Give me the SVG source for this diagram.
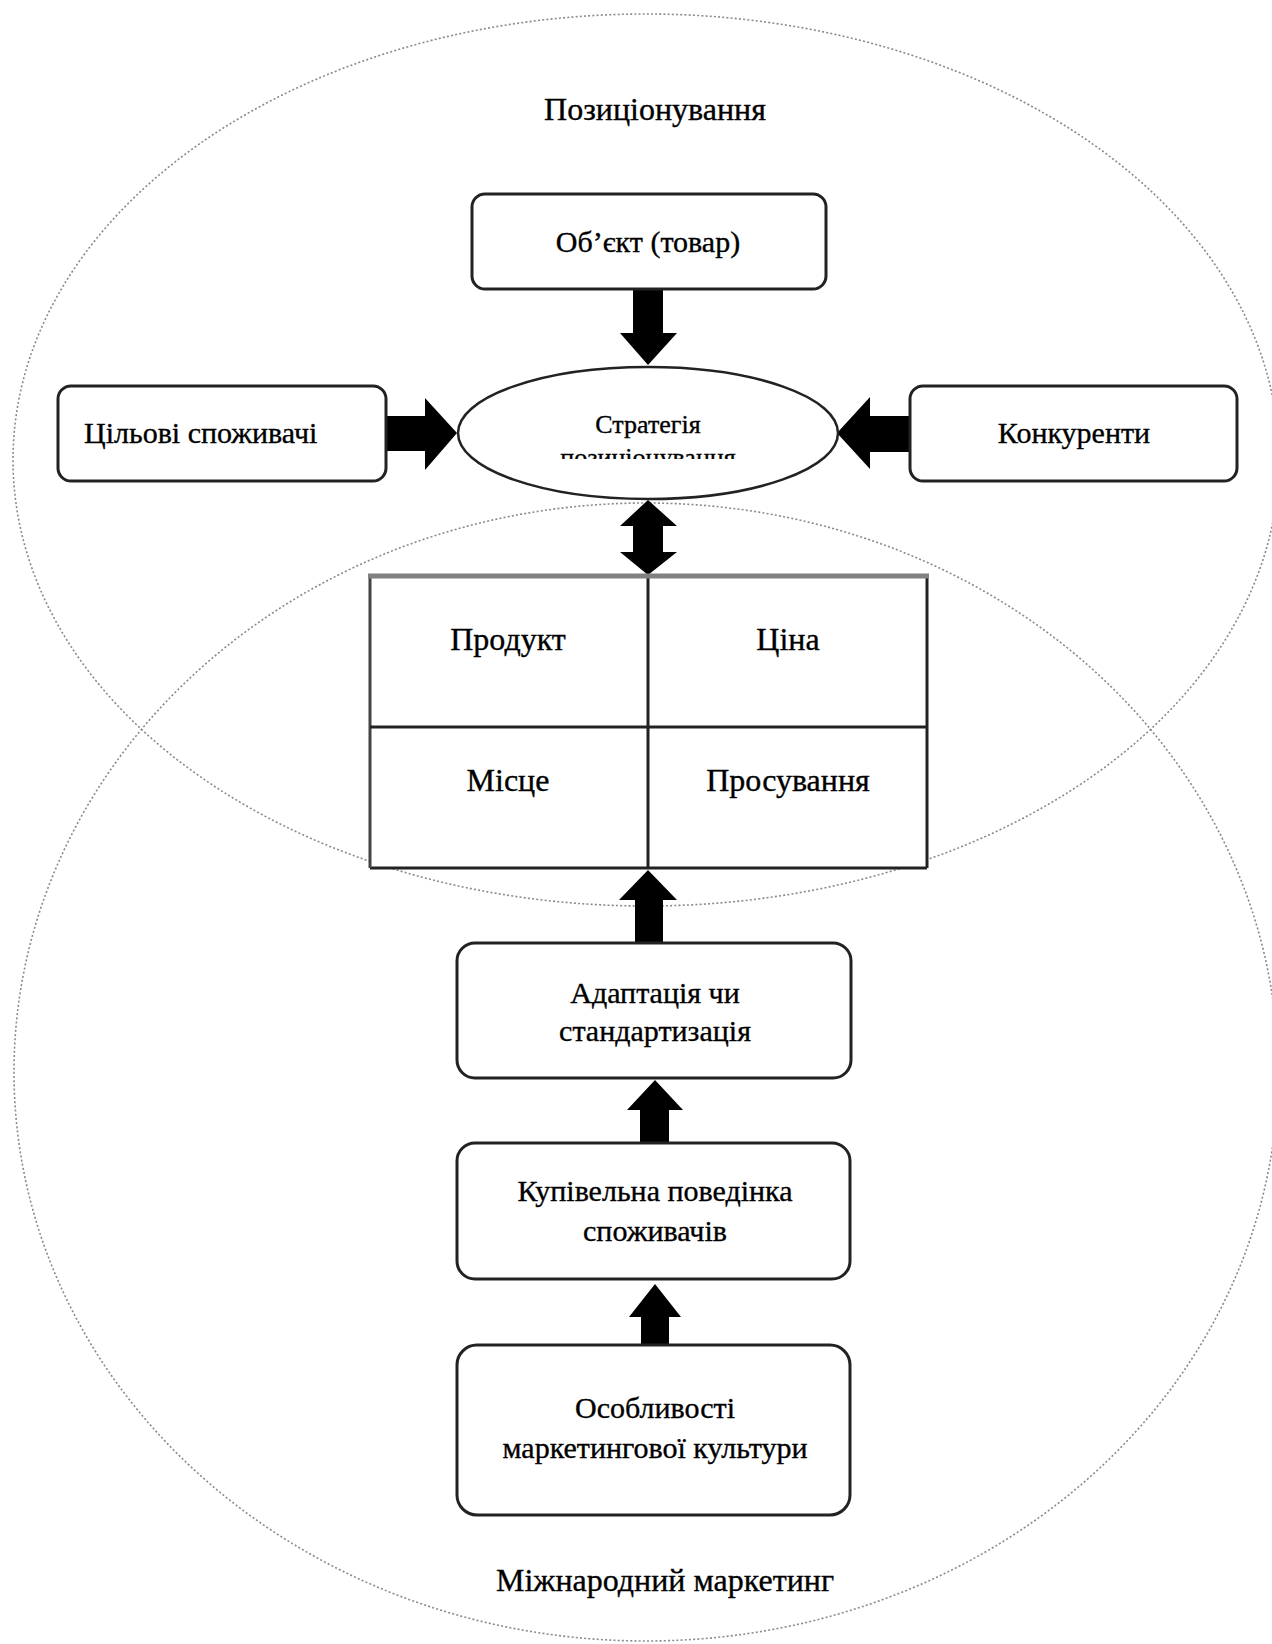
<svg xmlns="http://www.w3.org/2000/svg" width="1272" height="1644" viewBox="0 0 1272 1644">
<style>
  .bg { fill: #ffffff; }
  .zone { fill: none; stroke: #8a8a8a; stroke-width: 1.6; stroke-dasharray: 2 2.2; }
  .box { fill: #ffffff; stroke: #222222; stroke-width: 3; }
  .oval { fill: #ffffff; stroke: #222222; stroke-width: 2.5; }
  .grid { fill: none; stroke: #222222; stroke-width: 3; }
  .arrow { fill: #000000; stroke: none; }
  text { font-family: "Liberation Serif", "Times New Roman", serif; fill: #000000; text-anchor: middle; stroke: #000000; stroke-width: 0.35; }
  .t { font-size: 30px; }
  .tm { font-size: 32px; }
  .ts { font-size: 26px; }
  .tl { font-size: 32px; }
</style>
<defs>
  <clipPath id="ovalclip"><rect x="440" y="360" width="420" height="99"/></clipPath>
</defs>
<rect class="bg" x="0" y="0" width="1272" height="1644"/>

<g id="zones">
  <ellipse id="zone-positioning" class="zone" cx="646" cy="460" rx="633" ry="446"/>
  <ellipse id="zone-international" class="zone" cx="646" cy="1072" rx="632" ry="569"/>
  <text class="tl" x="655" y="120">Позиціонування</text>
  <text class="tl" x="665" y="1591">Міжнародний маркетинг</text>
</g>

<g id="connectors">
  <polygon class="arrow" points="633,290 663,290 663,333 677,333 648,365 620,333 633,333"/>
  <polygon class="arrow" points="387,416 425,416 425,398 457,433 425,470 425,451 387,451"/>
  <polygon class="arrow" points="910,416 870,416 870,397 837,433 870,469 870,452 910,452"/>
  <polygon class="arrow" points="648,500 677,526 663,526 663,552 677,552 648,575 620,552 633,552 633,526 620,526"/>
  <polygon class="arrow" points="648,870 677,900 663,900 663,943 635,943 635,900 619,900"/>
  <polygon class="arrow" points="655,1080 683,1110 669,1110 669,1143 640,1143 640,1110 627,1110"/>
  <polygon class="arrow" points="655,1284 681,1317 669,1317 669,1345 641,1345 641,1317 629,1317"/>
</g>

<g id="node-object">
  <rect class="box" x="472" y="194" width="354" height="95" rx="13"/>
  <text class="t" x="648" y="252">Об’єкт (товар)</text>
</g>

<g id="node-target">
  <rect class="box" x="58" y="386" width="328" height="95" rx="13"/>
  <text class="t" x="84" y="443" style="text-anchor:start">Цільові споживачі</text>
</g>

<g id="node-competitors">
  <rect class="box" x="910" y="386" width="327" height="95" rx="13"/>
  <text class="t" x="1074" y="443">Конкуренти</text>
</g>

<g id="node-strategy">
  <ellipse class="oval" cx="648" cy="433" rx="190" ry="66"/>
  <text class="ts" x="648" y="433">Стратегія</text>
  <g clip-path="url(#ovalclip)">
    <text class="ts" x="648" y="466">позиціонування</text>
  </g>
</g>

<g id="node-mix">
  <rect x="370" y="575" width="557" height="293" fill="#ffffff" stroke="none"/>
  <line class="grid" x1="370" y1="868" x2="927" y2="868"/>
  <line class="grid" x1="370" y1="575" x2="370" y2="868" style="stroke:#444444"/>
  <line class="grid" x1="927" y1="575" x2="927" y2="868"/>
  <line class="grid" x1="648" y1="575" x2="648" y2="868"/>
  <line class="grid" x1="370" y1="727" x2="927" y2="727"/>
  <line x1="368" y1="576" x2="929" y2="576" stroke="#808080" stroke-width="5"/>
  <text class="tm" x="508" y="650">Продукт</text>
  <text class="tm" x="788" y="650">Ціна</text>
  <text class="tm" x="508" y="791">Місце</text>
  <text class="tm" x="788" y="791">Просування</text>
</g>

<g id="node-adaptation">
  <rect class="box" x="457" y="943" width="394" height="135" rx="18"/>
  <text class="t" x="655" y="1003">Адаптація чи</text>
  <text class="t" x="655" y="1041">стандартизація</text>
</g>

<g id="node-behaviour">
  <rect class="box" x="457" y="1143" width="393" height="136" rx="18"/>
  <text class="t" x="655" y="1201">Купівельна поведінка</text>
  <text class="t" x="655" y="1241">споживачів</text>
</g>

<g id="node-culture">
  <rect class="box" x="457" y="1345" width="393" height="170" rx="20"/>
  <text class="t" x="655" y="1418">Особливості</text>
  <text class="t" x="655" y="1458">маркетингової культури</text>
</g>
</svg>
